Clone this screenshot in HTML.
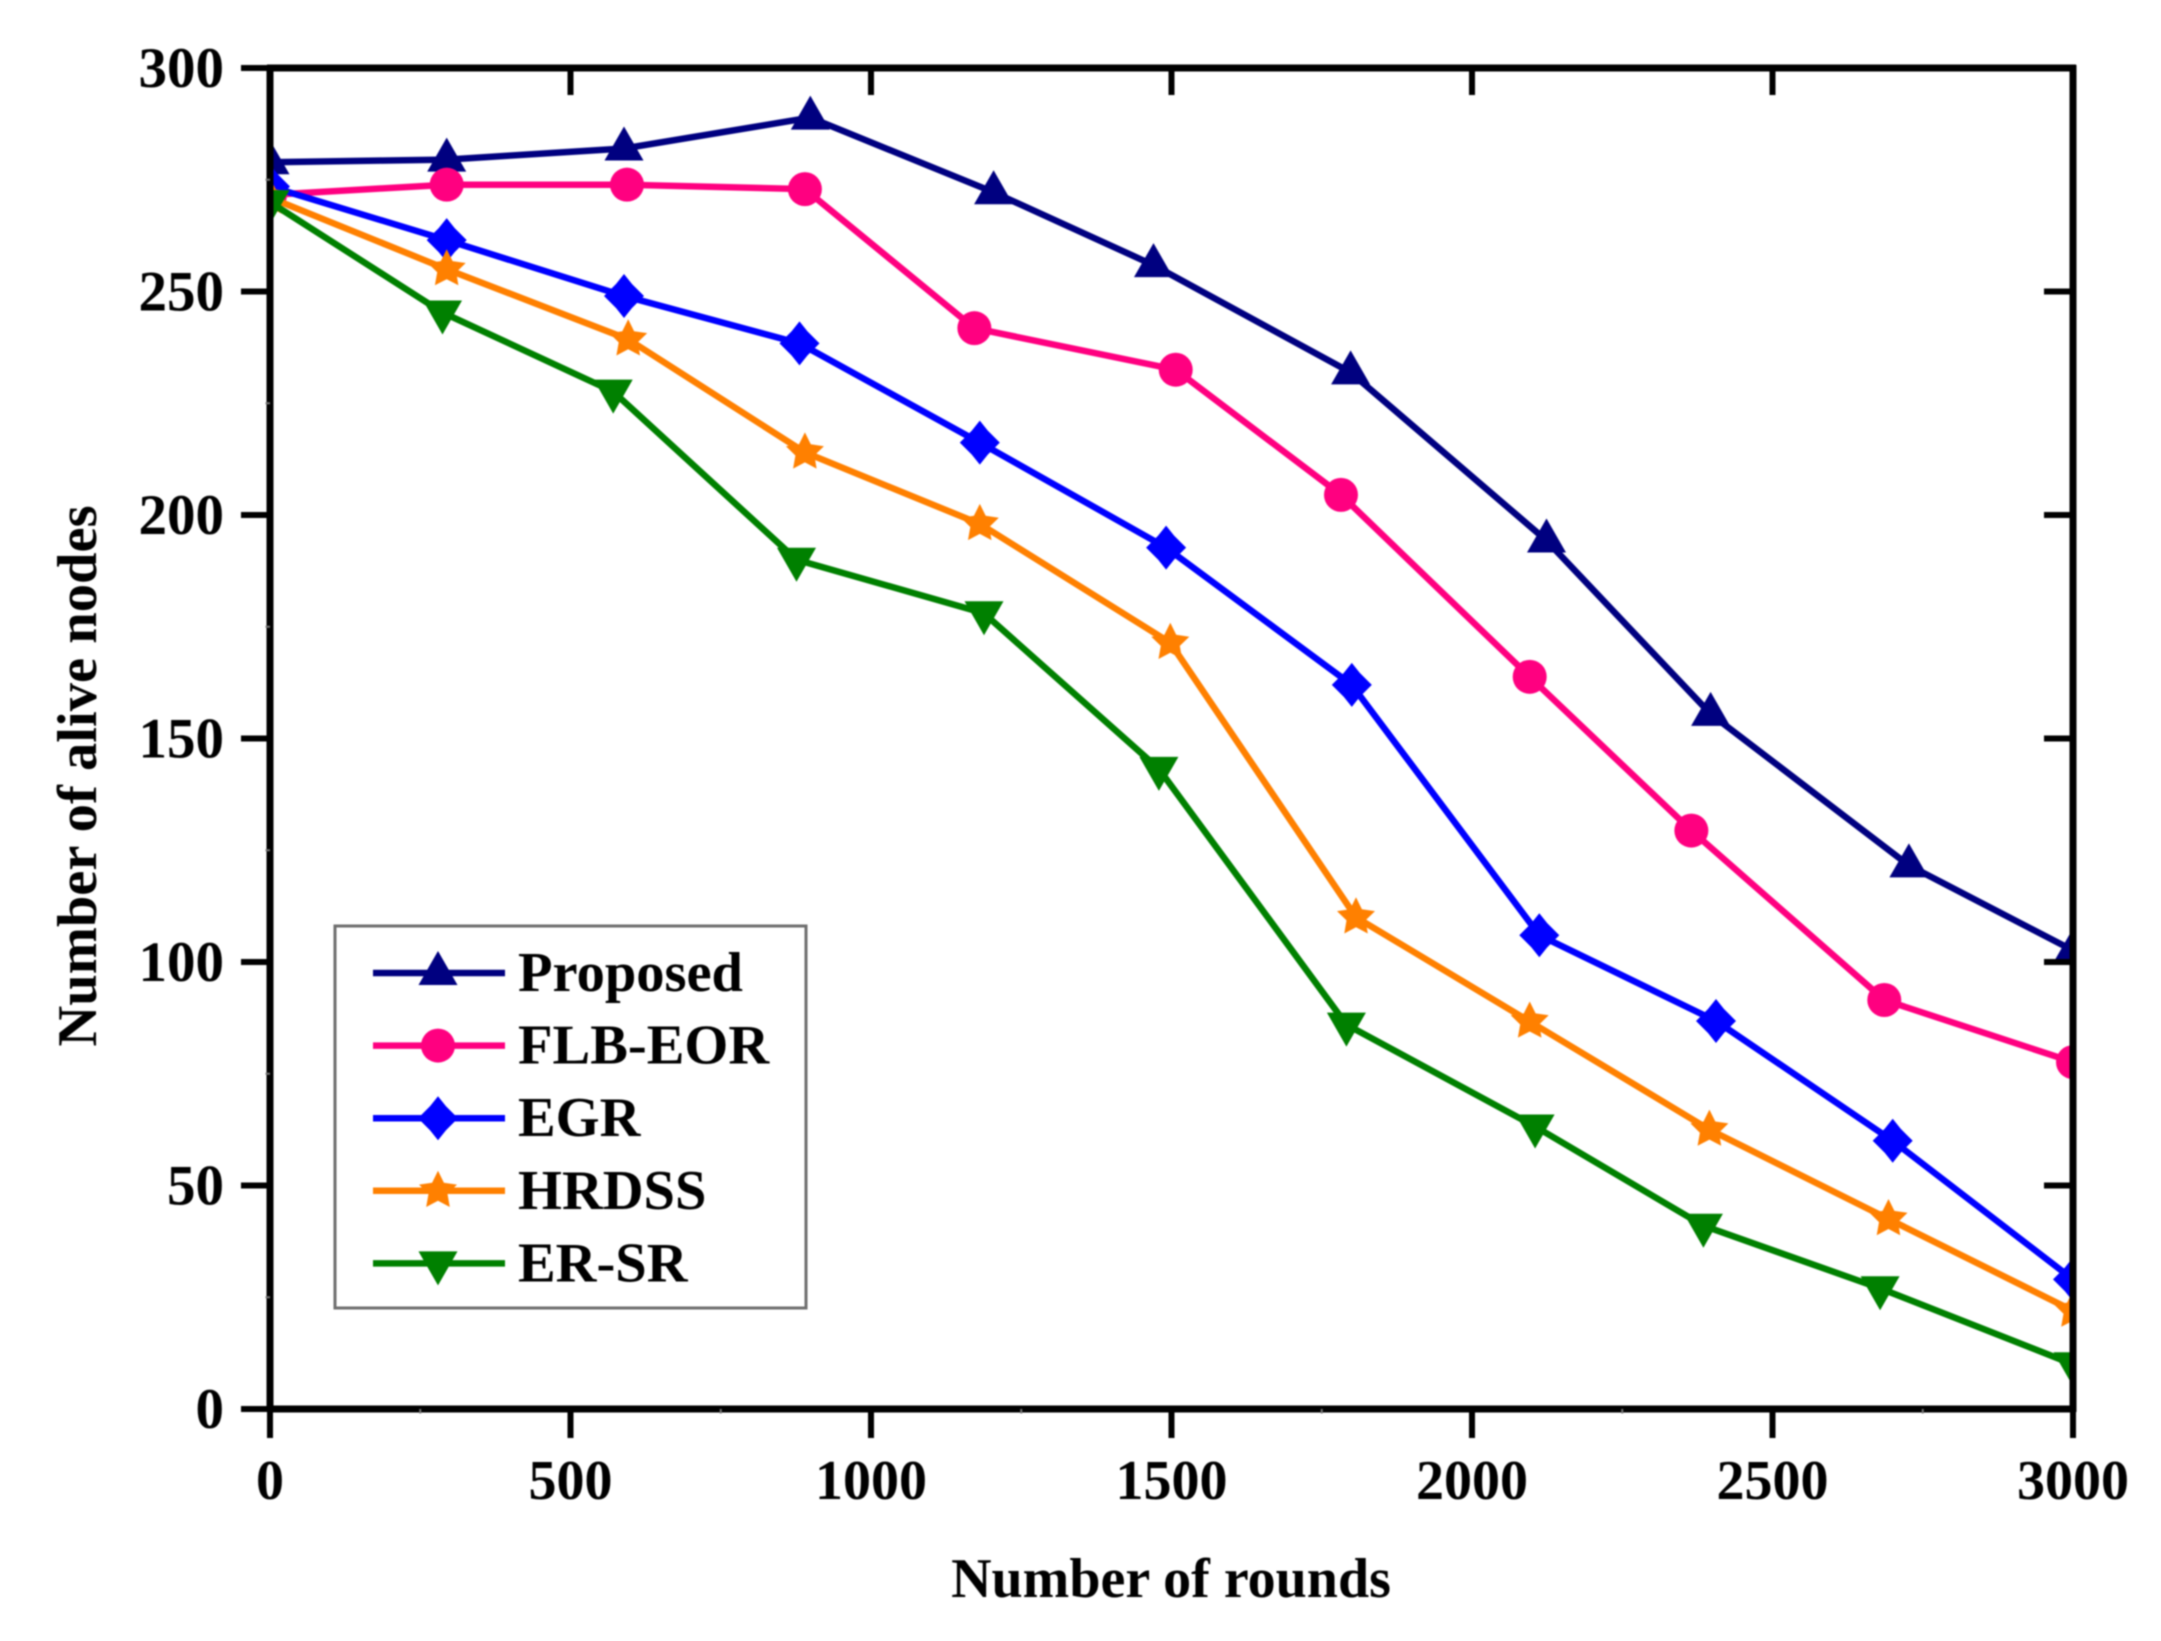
<!DOCTYPE html>
<html lang="en">
<head>
<meta charset="utf-8">
<title>Number of alive nodes vs number of rounds</title>
<style>
html,body{margin:0;padding:0;background:#fff;}
#chart{display:block;width:2161px;height:1641px;filter:blur(0.8px);}
text{font-family:"Liberation Serif",serif;font-weight:bold;fill:#000;}
</style>
</head>
<body>
<svg id="chart" xmlns="http://www.w3.org/2000/svg" width="2161" height="1641" viewBox="0 0 2161 1641">
  <defs><clipPath id="plot-clip"><rect x="270" y="68" width="1803" height="1341"/></clipPath></defs>
  <rect x="0" y="0" width="2161" height="1641" fill="#fff"/>
  <g id="series-layer" clip-path="url(#plot-clip)"></g>
  <g id="axes-layer"></g>
  <g id="legend-layer"></g>
  <text x="1171" y="1597" font-size="56" text-anchor="middle">Number of rounds</text>
  <text x="96" y="776" font-size="56.6" text-anchor="middle" transform="rotate(-90 96 776)">Number of alive nodes</text>
</svg>
<script>
const seriesNames = ['Proposed', 'FLB-EOR', 'EGR', 'HRDSS', 'ER-SR'];
const seriesSlugs = ['proposed', 'flb-eor', 'egr', 'hrdss', 'er-sr'];
const seriesColors = ['#000080', '#ff0080', '#0000ff', '#ff8000', '#008000'];
const seriesMarkers = ['triangle', 'circle', 'diamond', 'star', 'triangle-down'];

const proposedRounds = [0, 294, 589, 899, 1204, 1470, 1798, 2124, 2397, 2727, 3000];
const proposedAlive = [278.9, 279.5, 282, 288.9, 272.2, 255.9, 231.9, 194.3, 155.5, 121.6, 102.6];
const flbEorRounds = [0, 294, 594, 890, 1172, 1507, 1782, 2096, 2365, 2686, 3000];
const flbEorAlive = [271.6, 273.9, 273.9, 272.9, 241.8, 232.5, 204.5, 163.8, 129.4, 91.5, 77.6];
const egrRounds = [0, 294, 589, 881, 1181, 1491, 1800, 2112, 2406, 2700, 3000];
const egrAlive = [273.5, 261.5, 249, 238.4, 216.2, 192.7, 162, 106, 86.8, 60, 29];
const hrdssRounds = [0, 294, 596, 890, 1181, 1498, 1807, 2096, 2395, 2693, 3000];
const hrdssAlive = [271, 255, 239.3, 214, 198, 171.4, 110, 86.7, 62.5, 42.5, 22];
const erSrRounds = [0, 287, 571, 876, 1188, 1479, 1791, 2105, 2385, 2679, 3000];
const erSrAlive = [270, 245.3, 227.6, 190, 178, 143.2, 86, 63.2, 41, 27, 10];

const xTickLabels = [0, 500, 1000, 1500, 2000, 2500, 3000];
const yTickLabels = [0, 50, 100, 150, 200, 250, 300];
const xMinorTicks = [250, 750, 1250, 1750, 2250, 2750];
const yMinorTicks = [25, 75, 125, 175, 225, 275];

const allRounds = [proposedRounds, flbEorRounds, egrRounds, hrdssRounds, erSrRounds];
const allAlive = [proposedAlive, flbEorAlive, egrAlive, hrdssAlive, erSrAlive];

const SVG_NS = 'http://www.w3.org/2000/svg';
const plotLeft = 270, plotRight = 2073, plotTop = 68, plotBottom = 1409;
const xMax = 3000, yMax = 300;
function xScale(v) { return plotLeft + (v / xMax) * (plotRight - plotLeft); }
function yScale(v) { return plotBottom - (v / yMax) * (plotBottom - plotTop); }

function makeLine(parent, x1, y1, x2, y2, color, width) {
  const l = document.createElementNS(SVG_NS, 'line');
  l.setAttribute('x1', x1);
  l.setAttribute('y1', y1);
  l.setAttribute('x2', x2);
  l.setAttribute('y2', y2);
  l.setAttribute('stroke', color);
  l.setAttribute('stroke-width', width);
  parent.appendChild(l);
  return l;
}

function polyPoints(kind, cx, cy) {
  let pts = [];
  if (kind === 'triangle') {
    pts = [[0, -22], [19.5, 12], [-19.5, 12]];
  } else if (kind === 'triangle-down') {
    pts = [[0, 22], [19.5, -12], [-19.5, -12]];
  } else if (kind === 'diamond') {
    pts = [[0, -22], [8, -12], [20, 0], [8, 12], [0, 22], [-8, 12], [-20, 0], [-8, -12]];
  } else if (kind === 'star') {
    for (let i = 0; i < 10; i++) {
      const r = i % 2 === 0 ? 20 : 10;
      const a = -Math.PI / 2 + i * Math.PI / 5;
      pts.push([r * Math.cos(a), r * Math.sin(a)]);
    }
  }
  return pts.map(function (p) { return (cx + p[0]).toFixed(1) + ',' + (cy + p[1]).toFixed(1); }).join(' ');
}

function makeMarker(parent, kind, cx, cy, color) {
  let m;
  if (kind === 'circle') {
    m = document.createElementNS(SVG_NS, 'circle');
    m.setAttribute('cx', cx);
    m.setAttribute('cy', cy);
    m.setAttribute('r', 17);
  } else {
    m = document.createElementNS(SVG_NS, 'polygon');
    m.setAttribute('points', polyPoints(kind, cx, cy));
  }
  m.setAttribute('fill', color);
  parent.appendChild(m);
  return m;
}

const seriesLayer = document.getElementById('series-layer');
seriesNames.forEach(function (name, i) {
  const g = document.createElementNS(SVG_NS, 'g');
  
  
  seriesLayer.appendChild(g);

  const rounds = allRounds[i];
  const alive = allAlive[i];
  const path = document.createElementNS(SVG_NS, 'polyline');
  
  
  path.setAttribute('points', rounds.map(function (r, j) { return xScale(r).toFixed(1) + ',' + yScale(alive[j]).toFixed(1); }).join(' '));
  path.setAttribute('fill', 'none');
  path.setAttribute('stroke', seriesColors[i]);
  path.setAttribute('stroke-width', 6.5);
  path.setAttribute('stroke-linejoin', 'round');
  g.appendChild(path);

  rounds.forEach(function (r, j) {
    const mk = makeMarker(g, seriesMarkers[i], xScale(r), yScale(alive[j]), seriesColors[i]);
    
    
  });
});

const axesLayer = document.getElementById('axes-layer');
const axisParts = [
  ['axis-left', plotLeft, plotTop - 3, plotLeft, plotBottom + 3, 7],
  ['axis-right', plotRight, plotTop - 3, plotRight, plotBottom + 3, 7],
  ['axis-top', plotLeft - 3, plotTop, plotRight + 3, plotTop, 7],
  ['axis-bottom', plotLeft - 3, plotBottom, plotRight + 3, plotBottom, 7]
];
axisParts.forEach(function (a) {
  const l = makeLine(axesLayer, a[1], a[2], a[3], a[4], '#000', a[5]);
  
  
});

xTickLabels.forEach(function (v) {
  const x = xScale(v);
  const bottom = makeLine(axesLayer, x, plotBottom, x, plotBottom + 29, '#000', 6);
  
  
  const top = makeLine(axesLayer, x, plotTop, x, plotTop + 27, '#000', 6);
  
  
  const t = document.createElementNS(SVG_NS, 'text');
  
  
  t.setAttribute('x', x);
  t.setAttribute('y', 1499);
  t.setAttribute('font-size', 56);
  t.setAttribute('text-anchor', 'middle');
  t.textContent = String(v);
  axesLayer.appendChild(t);
});

yTickLabels.forEach(function (v) {
  const y = yScale(v);
  const left = makeLine(axesLayer, plotLeft - 29, y, plotLeft, y, '#000', 6);
  
  
  const right = makeLine(axesLayer, plotRight - 29, y, plotRight, y, '#000', 6);
  
  
  const t = document.createElementNS(SVG_NS, 'text');
  
  
  t.setAttribute('x', 224);
  t.setAttribute('y', y + 19);
  t.setAttribute('font-size', 57);
  t.setAttribute('text-anchor', 'end');
  t.textContent = String(v);
  axesLayer.appendChild(t);
});

xMinorTicks.forEach(function (v) {
  const x = xScale(v);
  const m = makeLine(axesLayer, x, plotBottom, x, plotBottom + 4.5, '#777', 2);
  
  
});
yMinorTicks.forEach(function (v) {
  const y = yScale(v);
  const m = makeLine(axesLayer, plotLeft - 4.5, y, plotLeft, y, '#777', 2);
  
  
});

const legendLayer = document.getElementById('legend-layer');
const legendBox = document.createElementNS(SVG_NS, 'rect');


legendBox.setAttribute('x', 335);
legendBox.setAttribute('y', 926);
legendBox.setAttribute('width', 471);
legendBox.setAttribute('height', 382);
legendBox.setAttribute('fill', '#fff');
legendBox.setAttribute('stroke', '#6e6e6e');
legendBox.setAttribute('stroke-width', 3);
legendLayer.appendChild(legendBox);

seriesNames.forEach(function (name, i) {
  const y = 973 + i * 72.6;
  const g = document.createElementNS(SVG_NS, 'g');
  
  
  legendLayer.appendChild(g);
  const l = makeLine(g, 373, y, 505, y, seriesColors[i], 6.5);
  
  
  const mk = makeMarker(g, seriesMarkers[i], 438, y, seriesColors[i]);
  
  
  const t = document.createElementNS(SVG_NS, 'text');
  
  
  t.setAttribute('x', 518);
  t.setAttribute('y', y + 18);
  t.setAttribute('font-size', 56.5);
  t.textContent = name;
  g.appendChild(t);
});
</script>
</body>
</html>
